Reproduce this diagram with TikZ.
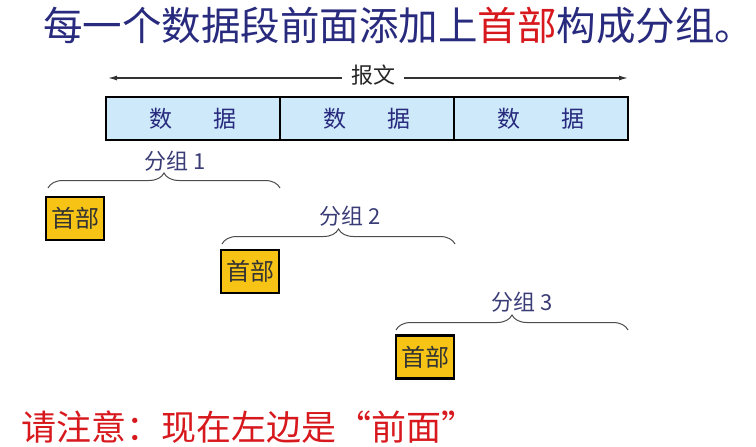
\documentclass[tikz,border=0pt]{standalone}
\usepackage{fontspec}
\setmainfont{Noto Sans CJK SC}
\newfontfamily\fwquote[RawFeature=+fwid]{Noto Sans CJK SC}
\usetikzlibrary{decorations.pathreplacing,arrows.meta}
\definecolor{titleBlue}{RGB}{40,42,125}
\definecolor{labelBlue}{RGB}{58,60,118}
\definecolor{noteRed}{RGB}{215,25,30}
\definecolor{dataBlue}{RGB}{205,233,250}
\definecolor{headGold}{RGB}{247,196,22}

\begin{document}
\begin{tikzpicture}[x=1pt,y=-1pt,
    databox/.style={draw=black,line width=2.5pt,fill=dataBlue,minimum width=174pt,minimum height=43pt,inner sep=0pt,text=titleBlue,font=\fontsize{23}{24}\selectfont},
    headbox/.style={draw=black,line width=2.5pt,fill=headGold,minimum width=58pt,minimum height=43pt,inner sep=0pt,text=black!80,font=\fontsize{24}{25}\selectfont},
    groupbrace/.style={decorate,decoration={brace,amplitude=15pt},draw=black!70,line width=1pt},
    grouplabel/.style={text=labelBlue,font=\fontsize{22}{23}\selectfont}]
        \useasboundingbox (0,0) rectangle (756,447);
        % title line
        \node[text=titleBlue,font=\fontsize{39.5}{41}\selectfont,anchor=west,inner sep=0pt] (title) at (43,26)
            {每一个数据段前面添加上\textcolor{noteRed}{首部}构成分组。};
        % message arrow
        \coordinate (msgL) at (108,78);
        \coordinate (msgR) at (628,78);
        \draw[black!80,line width=1.2pt,{Latex[length=9pt,width=5pt]}-{Latex[length=9pt,width=5pt]}] (msgL) -- (msgR);
        \node[fill=white,inner xsep=9pt,inner ysep=2pt,text=black!85,font=\fontsize{22}{23}\selectfont] (msg) at (373,75) {报文};
        % data blocks
        \node[databox] (d1) at (193,118.5) {数\hspace{1.8em}据};
        \node[databox] (d2) at (367,118.5) {数\hspace{1.8em}据};
        \node[databox] (d3) at (541,118.5) {数\hspace{1.8em}据};
        % packet 1
        \coordinate (g1a) at (48,188);
        \coordinate (g1b) at (280,188);
        \draw[groupbrace] (g1a) -- (g1b);
        \node[grouplabel] (lab1) at (175,161) {分组 1};
        \node[headbox] (h1) at (75,218.5) {首部};
        % packet 2
        \coordinate (g2a) at (222,244);
        \coordinate (g2b) at (455,244);
        \draw[groupbrace] (g2a) -- (g2b);
        \node[grouplabel] (lab2) at (350,216) {分组 2};
        \node[headbox] (h2) at (250,271.5) {首部};
        % packet 3
        \coordinate (g3a) at (396,330);
        \coordinate (g3b) at (628,330);
        \draw[groupbrace] (g3a) -- (g3b);
        \node[grouplabel] (lab3) at (522,302) {分组 3};
        \node[headbox] (h3) at (425,357) {首部};
        % note
        \node[text=noteRed,font=\fontsize{35}{36}\selectfont,anchor=west] (note) at (18,427)
            {请注意：现在左边是{\fwquote “}前面{\fwquote ”}};
      \end{tikzpicture}
\end{document}
